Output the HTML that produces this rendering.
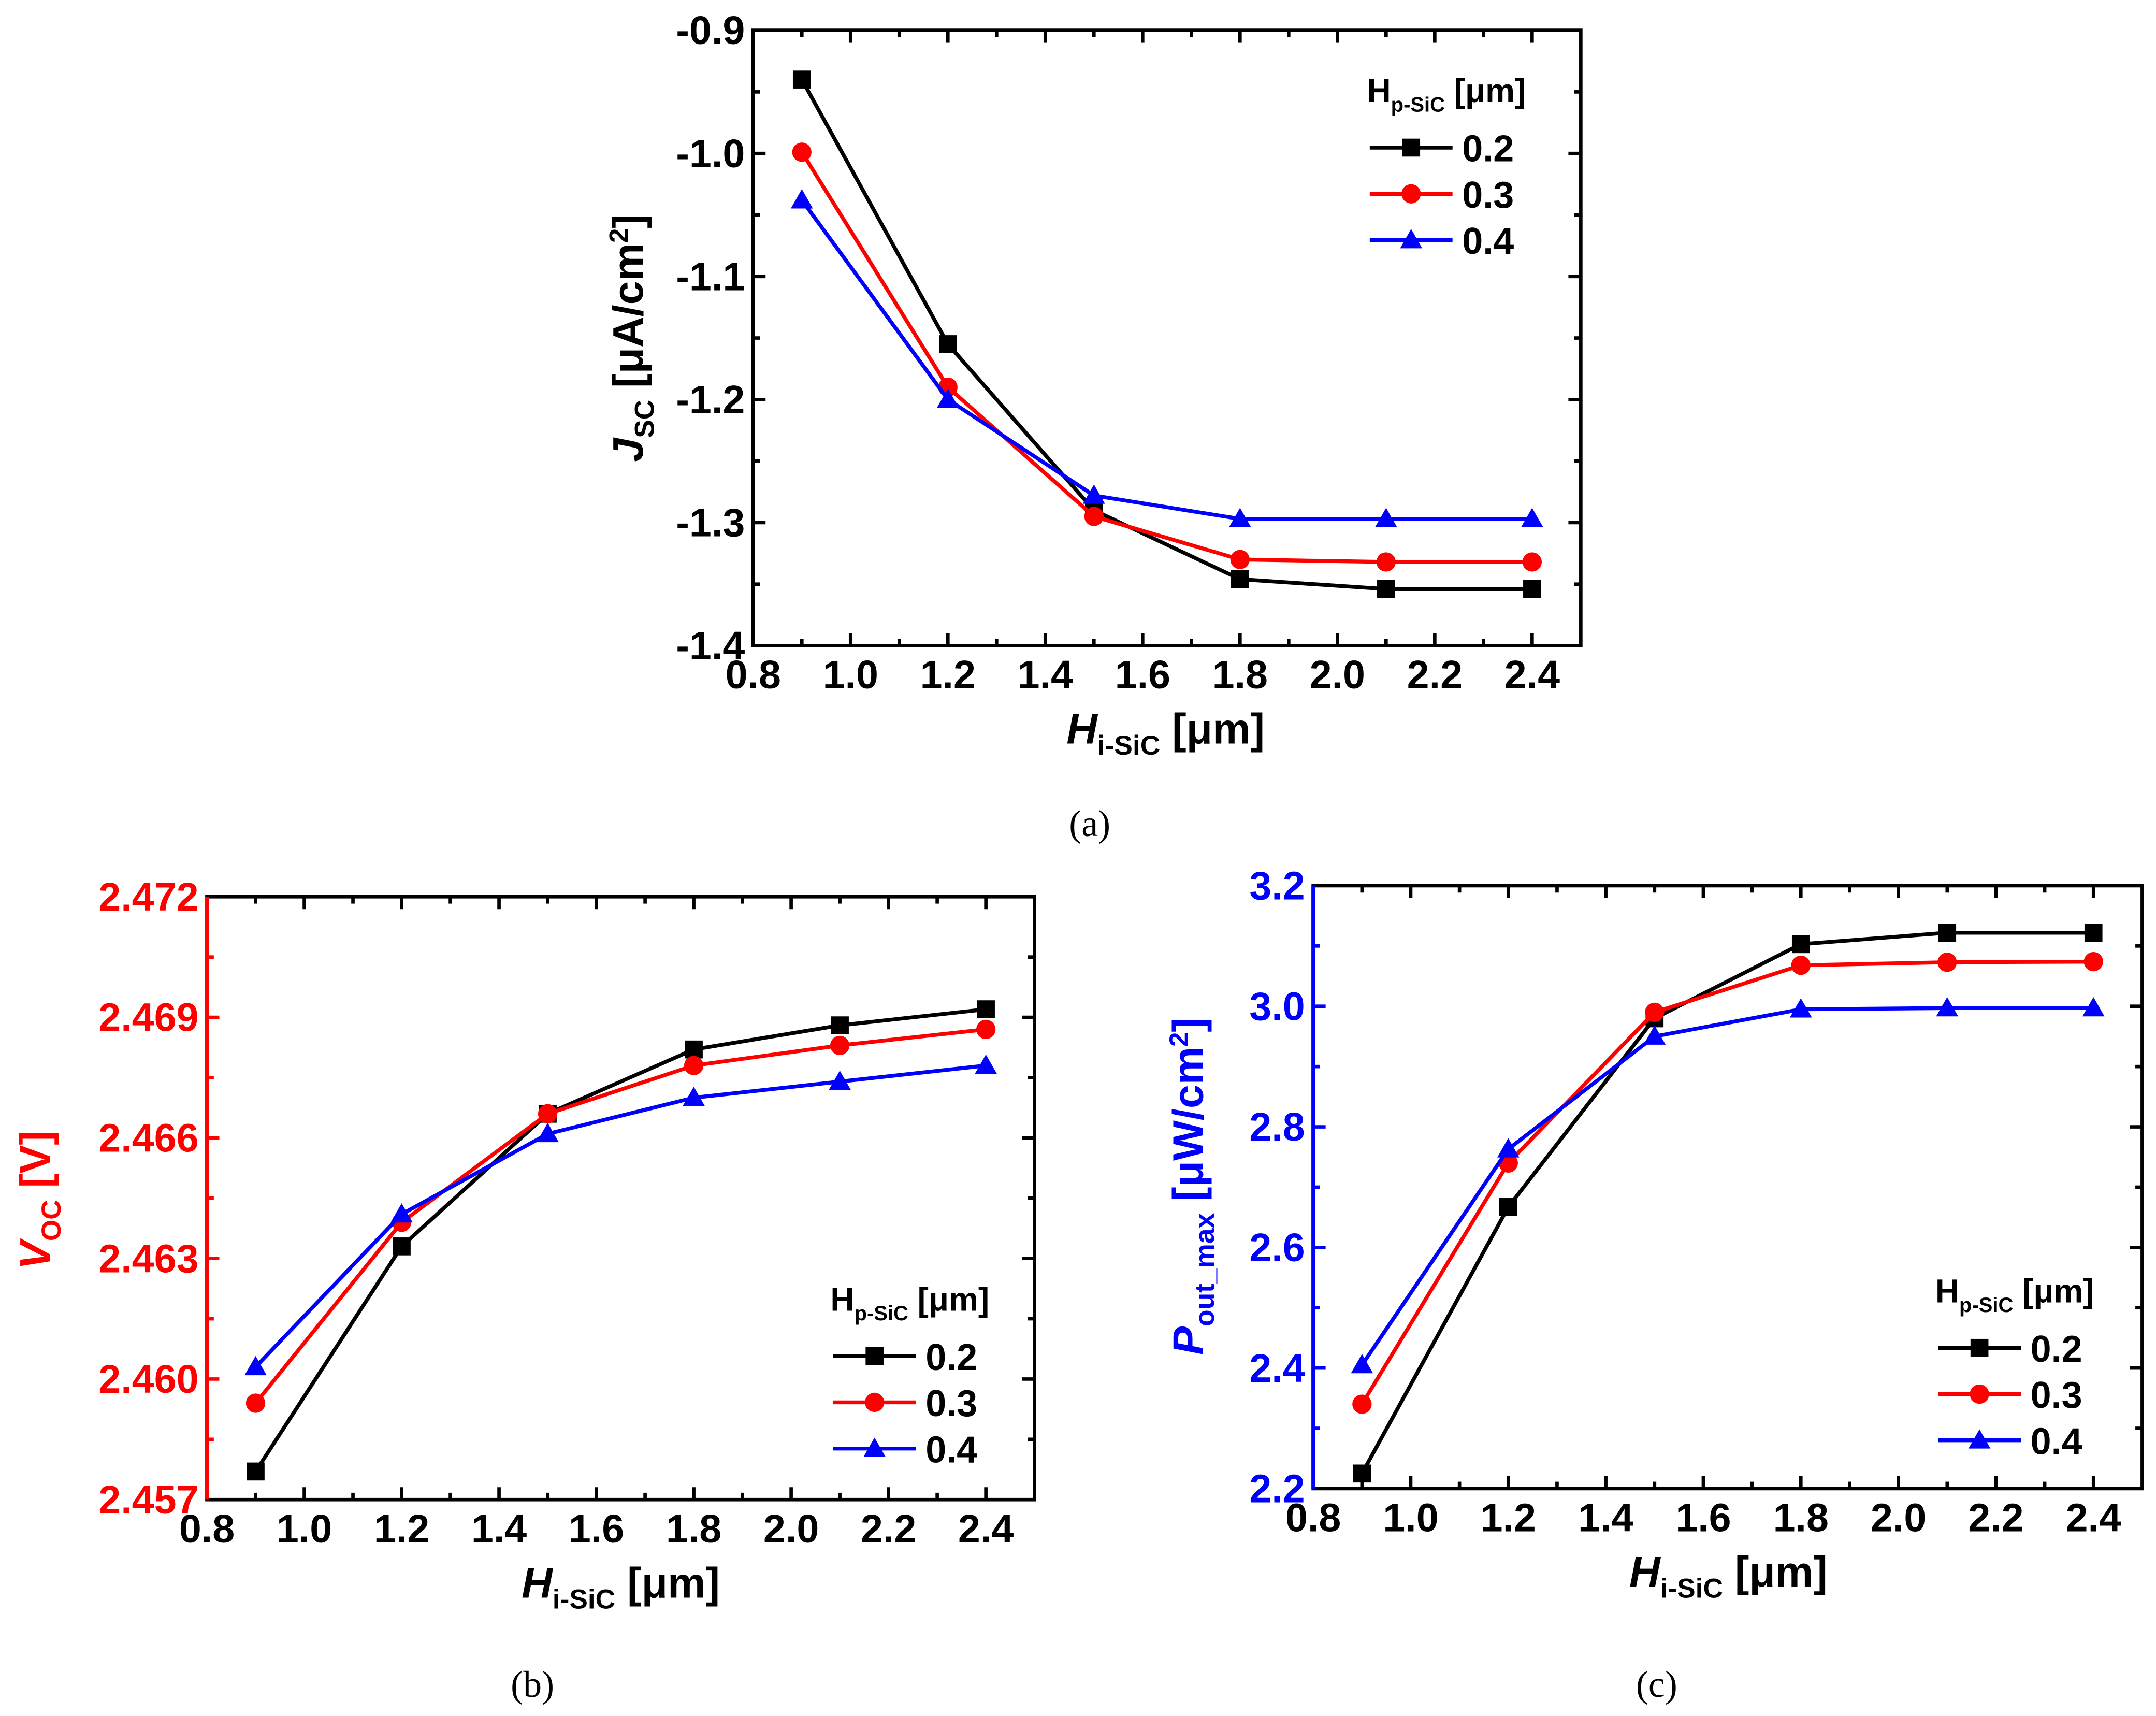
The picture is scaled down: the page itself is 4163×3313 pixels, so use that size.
<!DOCTYPE html>
<html><head><meta charset="utf-8"><style>
html,body{margin:0;padding:0;background:#fff}
svg{display:block}
text{font-family:"Liberation Sans Narrow","Liberation Sans",sans-serif;font-weight:bold}
.cap{font-family:"Liberation Serif",serif;font-weight:normal}
</style></head><body>
<svg id="fig" width="4163" height="3313" viewBox="0 0 4163 3313" xmlns="http://www.w3.org/2000/svg">
<g id="root" transform="scale(2.6635)"></g>
</svg>
<script>
const xVals = [0.9, 1.2, 1.5, 1.8, 2.1, 2.4];
const xTicks = ["0.8","1.0","1.2","1.4","1.6","1.8","2.0","2.2","2.4"];
const seriesNames = ["0.2","0.3","0.4"];
const jscBlack = [-0.94, -1.155, -1.29, -1.346, -1.354, -1.354];
const jscRed = [-0.999, -1.19, -1.295, -1.33, -1.332, -1.332];
const jscBlue = [-1.038, -1.2, -1.278, -1.297, -1.297, -1.297];
const jscTicks = ["-0.9","-1.0","-1.1","-1.2","-1.3","-1.4"];
const vocBlack = [2.4577, 2.4633, 2.4666, 2.4682, 2.4688, 2.4692];
const vocRed = [2.4594, 2.4639, 2.4666, 2.4678, 2.4683, 2.4687];
const vocBlue = [2.4603, 2.4641, 2.4661, 2.4670, 2.4674, 2.4678];
const vocTicks = ["2.457","2.460","2.463","2.466","2.469","2.472"];
const poutBlack = [2.225, 2.667, 2.98, 3.103, 3.122, 3.122];
const poutRed = [2.34, 2.74, 2.99, 3.068, 3.073, 3.074];
const poutBlue = [2.405, 2.763, 2.95, 2.995, 2.997, 2.997];
const poutTicks = ["2.2","2.4","2.6","2.8","3.0","3.2"];

const NS="http://www.w3.org/2000/svg";
const root=document.getElementById('root');
function mk(tag,attrs,parent){const e=document.createElementNS(NS,tag);for(const k in attrs)e.setAttribute(k,attrs[k]);(parent||root).appendChild(e);return e;}
const colors=["#000","#f00","#00f"];

function marker(g,type,x,y,c){
  let m;
  if(type===0){m=mk('rect',{x:x-6.5,y:y-6.5,width:13,height:13,fill:c},g);}
  else if(type===1){m=mk('circle',{cx:x,cy:y,r:7,fill:c},g);}
  else {m=mk('polygon',{points:`${x},${y-8} ${x+8},${y+6} ${x-8},${y+6}`,fill:c},g);}
  
  
}

function panel(p){
  const g=mk('g',{});
  
  
  const L=p.L,R=p.R,T=p.T,B=p.B;
  const xs=v=>L+(v-0.8)/(2.5-0.8)*(R-L);
  const ymin=parseFloat(p.ticks[0]),ymax=parseFloat(p.ticks[p.ticks.length-1]);
  const ys=v=>B-(v-ymin)/(ymax-ymin)*(B-T);
  const fr=mk('rect',{x:L,y:T,width:R-L,height:B-T,fill:'none',stroke:'#000','stroke-width':2.5},g);
  
  
  if(p.axisColor!=='#000'){
    const sp=mk('line',{x1:L,y1:T,x2:L,y2:B,stroke:p.axisColor,'stroke-width':2.6},g);
    
    
  }
  for(let i=0;i<=17;i++){
    const v=0.8+i*0.1, x=xs(v), len=(i%2===0)?9:5;
    if(i===0||i===17) continue;
    mk('line',{x1:x,y1:B,x2:x,y2:B-len,stroke:'#000','stroke-width':2.5},g);
    mk('line',{x1:x,y1:T,x2:x,y2:T+len,stroke:'#000','stroke-width':2.5},g);
  }
  xTicks.forEach(t=>{
    const tx=mk('text',{x:xs(parseFloat(t)),y:B+31,'font-size':29,'text-anchor':'middle',fill:'#000'},g);
    tx.textContent=t;
    
    
  });
  const n=p.ticks.length;
  for(let i=0;i<(n-1)*2+1;i++){
    const v=ymin+i*(ymax-ymin)/((n-1)*2), y=ys(v), len=(i%2===0)?9:5;
    if(i===0||i===(n-1)*2) continue;
    mk('line',{x1:L,y1:y,x2:L+len,y2:y,stroke:p.axisColor,'stroke-width':2.5},g);
    mk('line',{x1:R,y1:y,x2:R-len,y2:y,stroke:'#000','stroke-width':2.5},g);
  }
  p.ticks.forEach(t=>{
    const ty=mk('text',{x:L-6,y:ys(parseFloat(t))+10,'font-size':29,'text-anchor':'end',fill:p.axisColor},g);
    ty.textContent=t;
    
    
  });
  p.series.forEach((s,k)=>{
    const sg=mk('g',{},g);
    
    
    const pts=s.map((v,i)=>xs(xVals[i])+','+ys(v)).join(' ');
    mk('polyline',{points:pts,fill:'none',stroke:colors[k],'stroke-width':2.8},sg);
    s.forEach((v,i)=>marker(sg,k,xs(xVals[i]),ys(v),colors[k]));
  });
  const lg=mk('g',{},g);
  
  
  const lt=mk('text',{x:p.lx-2,y:p.ly,'font-size':24,fill:'#000'},lg);
  lt.innerHTML='H<tspan font-size="15" dy="7">p-SiC</tspan><tspan dy="-7"> [μm]</tspan>';
  
  
  seriesNames.forEach((nm,k)=>{
    const y=p.ly+33+k*33.5;
    const e=mk('g',{},lg);
    
    
    mk('line',{x1:p.lx,y1:y,x2:p.lx+60,y2:y,stroke:colors[k],'stroke-width':2.8},e);
    marker(e,k,p.lx+30,y,colors[k]);
    const t=mk('text',{x:p.lx+67,y:y+10,'font-size':27,fill:'#000'},e);
    t.textContent=nm;
  });
  const xt=mk('text',{x:p.xtx,y:B+71,'font-size':31,'text-anchor':'middle',fill:'#000'},g);
  xt.innerHTML='<tspan font-style="italic">H</tspan><tspan font-size="20" dy="8">i-SiC</tspan><tspan dy="-8"> [μm]</tspan>';
  
  
  const yt=mk('text',{x:0,y:0,'font-size':31,'text-anchor':'middle',fill:p.axisColor,transform:`translate(${p.ytx},${p.yty}) rotate(-90)`},g);
  yt.innerHTML=p.ytitle;
  
  
  const c=mk('text',{x:p.cx,y:p.cy,'font-size':27,'text-anchor':'middle',fill:'#000',class:'cap'},g);
  c.textContent=p.cap;
  
  
}

panel({name:'panel-a-jsc',L:546,R:1146,T:22,B:468,ticks:jscTicks.slice().reverse(),series:[jscBlack,jscRed,jscBlue],axisColor:'#000',
  lx:993,ly:74,xtx:845,ytx:466,yty:245,cap:'(a)',cx:790,cy:606,
  ytitle:'<tspan font-style="italic">J</tspan><tspan font-size="20" dy="8">SC</tspan><tspan dy="-8"> [μA/cm</tspan><tspan font-size="19" dy="-11">2</tspan><tspan dy="11">]</tspan>'});
panel({name:'panel-b-voc',L:150,R:750,T:650,B:1087,ticks:vocTicks,series:[vocBlack,vocRed,vocBlue],axisColor:'#f00',
  lx:604,ly:950,xtx:450,ytx:36,yty:870,cap:'(b)',cx:386,cy:1230,
  ytitle:'<tspan font-style="italic">V</tspan><tspan font-size="20" dy="8">OC</tspan><tspan dy="-8"> [V]</tspan>'});
panel({name:'panel-c-pout',L:952,R:1553,T:642,B:1079,ticks:poutTicks,series:[poutBlack,poutRed,poutBlue],axisColor:'#00f',
  lx:1405,ly:944,xtx:1253,ytx:872,yty:860,cap:'(c)',cx:1201,cy:1230,
  ytitle:'<tspan font-style="italic">P</tspan><tspan font-size="20" dy="8">out_max</tspan><tspan dy="-8"> [μW/cm</tspan><tspan font-size="19" dy="-11">2</tspan><tspan dy="11">]</tspan>'});
</script>
</body></html>
